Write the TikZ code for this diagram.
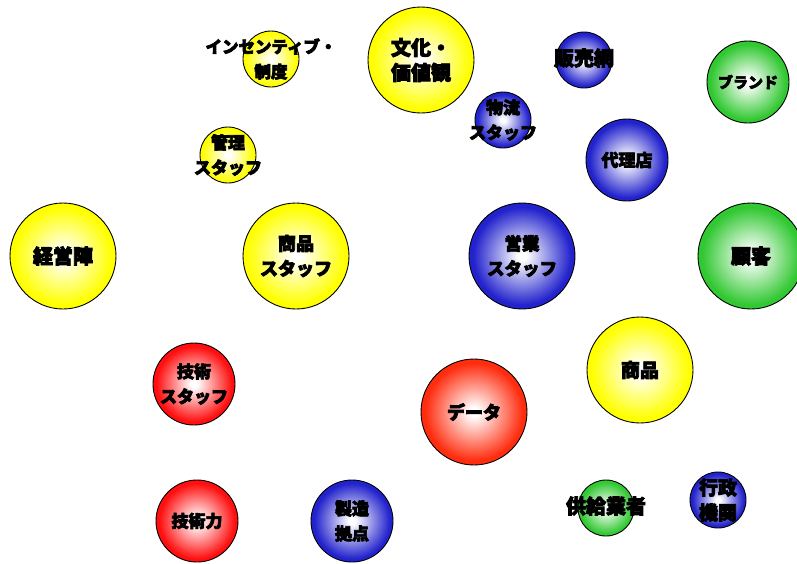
\documentclass[tikz,border=0pt]{standalone}
\usepackage{fontspec}
\newfontfamily\jp{Noto Sans CJK JP}[BoldFeatures={FakeBold=4}]
\definecolor{cY}{RGB}{255,255,0}
\definecolor{cB}{RGB}{35,35,205}
\definecolor{cG}{RGB}{50,200,50}
\definecolor{cR}{RGB}{255,15,15}
\definecolor{cO}{RGB}{255,45,15}
\pgfdeclareradialshading{shY}{\pgfpoint{0bp}{0bp}}{color(0bp)=(white); color(2bp)=(white); color(23bp)=(cY); color(50bp)=(cY)}
\pgfdeclareradialshading{shB}{\pgfpoint{0bp}{0bp}}{color(0bp)=(white); color(2bp)=(white); color(23bp)=(cB); color(50bp)=(cB)}
\pgfdeclareradialshading{shG}{\pgfpoint{0bp}{0bp}}{color(0bp)=(white); color(2bp)=(white); color(23bp)=(cG); color(50bp)=(cG)}
\pgfdeclareradialshading{shR}{\pgfpoint{0bp}{0bp}}{color(0bp)=(white); color(2bp)=(white); color(23bp)=(cR); color(50bp)=(cR)}
\pgfdeclareradialshading{shO}{\pgfpoint{0bp}{0bp}}{color(0bp)=(white); color(2bp)=(white); color(23bp)=(cO); color(50bp)=(cO)}
\tikzset{
  ball/.style={circle, draw=black, line width=0.9pt, inner sep=0pt, shading=#1},
  rS/.style={minimum size=56pt},
  rM/.style={minimum size=82pt},
  rL/.style={minimum size=106pt},
  lbl/.style={align=center, inner sep=0pt, font=\jp\bfseries\fontsize{#1}{25}\selectfont},
  lbl/.default=18
}
\begin{document}
\begin{tikzpicture}[x=1pt,y=-1pt]
\useasboundingbox (0,0) rectangle (797,563);
\clip (0,0) rectangle (797,563);
% circles
\node[ball=shY, rS] (c1) at (271,59) {};
\node[ball=shY, rL] (c2) at (421,60) {};
\node[ball=shB, rS] (c3) at (503,120) {};
\node[ball=shB, rS] (c4) at (584,60) {};
\node[ball=shG, rM] (c5) at (748,82) {};
\node[ball=shB, rM] (c6) at (627,160) {};
\node[ball=shY, rS] (c7) at (228,155) {};
\node[ball=shY, rL] (c8) at (63,256) {};
\node[ball=shY, rL] (c9) at (296,256) {};
\node[ball=shB, rL] (c10) at (522,256) {};
\node[ball=shG, rL] (c11) at (751,256) {};
\node[ball=shR, rM] (c12) at (194,384) {};
\node[ball=shO, rL] (c13) at (474,412) {};
\node[ball=shY, rL] (c14) at (640,370) {};
\node[ball=shR, rM] (c15) at (197,521) {};
\node[ball=shB, rM] (c16) at (352,521) {};
\node[ball=shG, rS] (c17) at (606,508) {};
\node[ball=shB, rS] (c18) at (718,500) {};
% labels
\node[lbl=16.5] (t1) at (c1.center) {インセンティブ・\\制度};
\node[lbl=20] (t2) at (c2.center) {文化・\\価値観};
\node[lbl=17] (t3) at (c3.center) {物流\\スタッフ};
\node[lbl=20] (t4) at ([yshift=2pt]c4.center) {販売網};
\node[lbl=15] (t5) at (c5.center) {ブランド};
\node[lbl=17] (t6) at (c6.center) {代理店};
\node[lbl=17] (t7) at (c7.center) {管理\\スタッフ};
\node[lbl=20] (t8) at (c8.center) {経営陣};
\node[lbl=18] (t9) at (c9.center) {商品\\スタッフ};
\node[lbl=17.5] (t10) at (c10.center) {営業\\スタッフ};
\node[lbl=20] (t11) at (c11.center) {顧客};
\node[lbl=17] (t12) at (c12.center) {技術\\スタッフ};
\node[lbl=18] (t13) at (c13.center) {データ};
\node[lbl=19] (t14) at (c14.center) {商品};
\node[lbl=17] (t15) at (c15.center) {技術力};
\node[lbl=17] (t16) at (c16.center) {製造\\拠点};
\node[lbl=20] (t17) at ([yshift=2pt]c17.center) {供給業者};
\node[lbl=19] (t18) at (c18.center) {行政\\機関};
\end{tikzpicture}
\end{document}
